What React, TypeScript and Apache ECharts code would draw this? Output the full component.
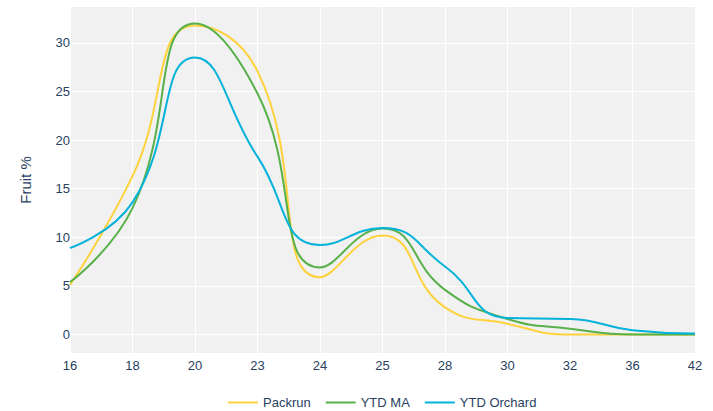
import React, { useEffect, useRef } from "react";
import * as echarts from "echarts";

const categories = ["16", "18", "20", "23", "24", "25", "28", "30", "32", "36", "42"];
const packrun = [5.1, 16.3, 31.8, 27.1, 5.9, 10.2, 2.8, 1.1, 0.0, 0.0, 0.0];
const ytdMA = [5.4, 13.0, 32.0, 24.8, 6.9, 10.9, 4.6, 1.6, 0.6, 0.0, 0.0];
const ytdOrchard = [8.9, 13.6, 28.5, 18.3, 9.2, 10.95, 7.0, 1.7, 1.6, 0.45, 0.1];

const textColor = "#2a3f5f";
const fontFamily = "'Liberation Sans', Arial, sans-serif";

export default function App() {
  const ref = useRef<HTMLDivElement>(null);
  useEffect(() => {
    if (!ref.current) return;
    const chart = echarts.init(ref.current, undefined, { renderer: "svg" });
    const mk = (name: string, data: number[], color: string) => ({
      name,
      type: "line",
      data,
      smooth: 0.5,
      symbol: "none",
      lineStyle: { color, width: 2 },
      itemStyle: { color },
    });
    chart.setOption({
      animation: false,
      textStyle: { fontFamily },
      grid: {
        left: 70,
        right: 18,
        top: 7,
        bottom: 58,
        show: true,
        backgroundColor: "#f1f1f1",
        borderWidth: 0,
      },
      legend: {
        left: 223,
        top: 391,
        icon: "rect",
        itemWidth: 30,
        itemHeight: 2,
        itemGap: 15,
        textStyle: { color: textColor, fontSize: 13, fontFamily },
        data: ["Packrun", "YTD MA", "YTD Orchard"],
      },
      xAxis: {
        type: "category",
        data: categories,
        boundaryGap: false,
        axisLine: { show: false },
        axisTick: { show: false },
        axisLabel: { color: textColor, fontSize: 13, margin: 6, fontFamily },
        splitLine: { show: true, lineStyle: { color: "#ffffff", width: 1 } },
      },
      yAxis: {
        type: "value",
        min: -1.9,
        max: 33.7,
        splitNumber: 7,
        name: "Fruit %",
        nameLocation: "middle",
        nameRotate: 90,
        nameGap: 37,
        nameTextStyle: { color: textColor, fontSize: 15, fontFamily },
        axisLine: { show: false },
        axisTick: { show: false },
        axisLabel: {
          color: textColor,
          fontSize: 13,
          margin: 0,
          fontFamily,
          showMinLabel: false,
          showMaxLabel: false,
          formatter: (v: number) => (Math.abs(v % 5) < 1e-9 ? String(v) : ""),
        },
        splitLine: {
          show: true,
          showMinLine: false,
          showMaxLine: false,
          lineStyle: { color: "#ffffff", width: 1 },
        },
      },
      series: [
        mk("Packrun", packrun, "#fdd23c"),
        mk("YTD MA", ytdMA, "#58b04a"),
        mk("YTD Orchard", ytdOrchard, "#05b2da"),
      ],
    });
    return () => chart.dispose();
  }, []);
  return <div ref={ref} style={{ width: 713, height: 411, position: "absolute", left: 0, top: 0 }} />;
}
